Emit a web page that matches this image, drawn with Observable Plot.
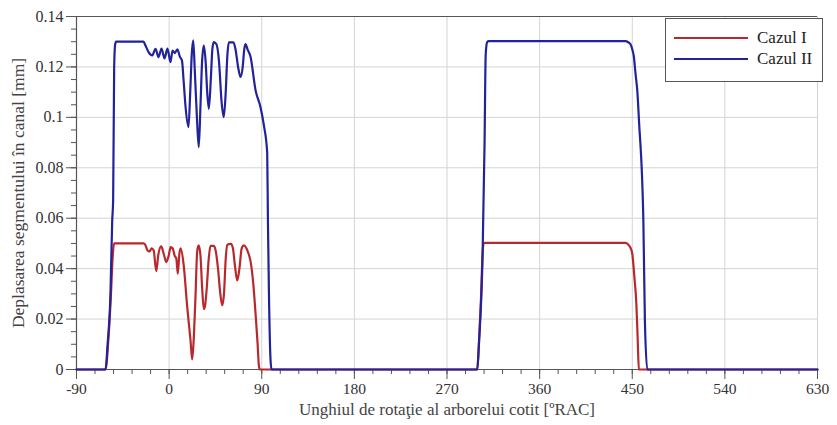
<!DOCTYPE html>
<html>
<head>
<meta charset="utf-8">
<script src="https://cdn.jsdelivr.net/npm/d3@7"></script>
<script src="https://cdn.jsdelivr.net/npm/@observablehq/plot@0.6"></script>
<style>
  body { margin: 0; background: #fff; }
  #wrap { position: relative; width: 837px; height: 425px; font-family: "Liberation Serif", "DejaVu Serif", serif; }
  #chart svg, #chart svg text { font-family: "Liberation Serif", serif !important; }
  #legend { position: absolute; left: 665px; top: 18px; width: 158px; height: 64px; border: 1.5px solid #555; background: #fff; box-sizing: border-box; }
  .item { position: absolute; left: 8px; height: 20px; display: flex; align-items: center; font-size: 17px; color: #222; }
  .item span.sw { display: inline-block; width: 74px; height: 2.5px; margin-right: 9px; }
</style>
</head>
<body>
<div id="wrap">
  <div id="chart"></div>
  <div id="legend">
    <div class="item" style="top:9px"><span class="sw" style="background:#b8282c"></span>Cazul I</div>
    <div class="item" style="top:30px"><span class="sw" style="background:#22229a"></span>Cazul II</div>
  </div>
</div>
<script>
// ---- data ----
const seriesNames = ["Cazul I", "Cazul II"];

const angleI = [-90, -61.8, -59, -56.5, -54.8, -53.5, -24.9, -23, -21, -19, -17, -15, -12.5, -10.5, -7.7, -5, -2.8, -0.5, 1.5, 3.5, 5.5, 7, 8.4, 10, 11.2, 14, 17.6, 20.8, 22.4, 24, 25.6, 27.3, 28.8, 30.5, 32, 33.7, 35, 36.5, 38.5, 40.2, 43.5, 45.5, 47.5, 49.5, 51.6, 53.3, 55, 56.4, 60, 62, 64, 66.2, 68.3, 70.5, 72.6, 75.2, 77.1, 79.1, 82, 84, 86, 87.1, 88, 299.4, 301, 303, 304.6, 305.5, 307, 443.5, 446, 448, 450, 452, 454, 455.3, 456.4, 630];
const valueI = [0, 0, 0.012, 0.03, 0.045, 0.05, 0.05, 0.0493, 0.0472, 0.0468, 0.048, 0.0472, 0.039, 0.0455, 0.0488, 0.0455, 0.0426, 0.045, 0.0485, 0.048, 0.045, 0.044, 0.038, 0.046, 0.048, 0.042, 0.0247, 0.0115, 0.004, 0.0128, 0.0287, 0.047, 0.0492, 0.045, 0.033, 0.024, 0.0255, 0.032, 0.044, 0.049, 0.049, 0.0465, 0.04, 0.031, 0.0255, 0.03, 0.044, 0.0495, 0.0498, 0.048, 0.041, 0.0353, 0.04, 0.048, 0.0492, 0.048, 0.046, 0.043, 0.033, 0.022, 0.01, 0.002, 0, 0, 0.01, 0.028, 0.046, 0.05, 0.0502, 0.0502, 0.0496, 0.0485, 0.046, 0.037, 0.026, 0.012, 0, 0];

const angleII = [-90, -61.8, -59.8, -57, -55.3, -54.4, -53.4, -52.4, -51.4, -24.9, -23, -20, -16.4, -13.2, -10.3, -7.4, -4.5, -1.6, 1.3, 3.3, 5.5, 8, 10.5, 12.5, 14, 16, 18.8, 20.5, 22, 23.4, 25, 27, 28.8, 30.5, 32, 33.7, 35.5, 37, 38.6, 40.5, 42, 43.4, 46, 48.5, 51, 53.1, 55, 56.5, 58, 62.5, 64.5, 67, 69.4, 71.5, 73, 74.2, 76.2, 79.1, 84, 88.8, 92, 95.3, 96, 97, 98.5, 99.5, 299.4, 301, 304.6, 306.5, 307.6, 309, 310.5, 443.5, 446, 448.3, 450, 451.6, 453, 455, 456.5, 460.8, 462.3, 464.6, 630];
const valueII = [0, 0, 0.01, 0.03, 0.059, 0.067, 0.12, 0.129, 0.13, 0.13, 0.1285, 0.1259, 0.1246, 0.1272, 0.1239, 0.1273, 0.1234, 0.1273, 0.1219, 0.1265, 0.1255, 0.127, 0.124, 0.1225, 0.115, 0.104, 0.0961, 0.11, 0.125, 0.1305, 0.118, 0.1, 0.0882, 0.105, 0.122, 0.1285, 0.122, 0.11, 0.1034, 0.115, 0.127, 0.1298, 0.129, 0.122, 0.106, 0.1001, 0.11, 0.124, 0.1297, 0.1297, 0.127, 0.12, 0.116, 0.12, 0.127, 0.1291, 0.127, 0.124, 0.1107, 0.104, 0.097, 0.086, 0.059, 0.03, 0.004, 0, 0, 0.01, 0.046, 0.09, 0.125, 0.1298, 0.1302, 0.1302, 0.1298, 0.129, 0.127, 0.124, 0.118, 0.11, 0.099, 0.059, 0.019, 0, 0];

const xTicks = [-90, 0, 90, 180, 270, 360, 450, 540, 630];
const xMinorTicks = d3.range(-90, 631, 18);
const yTicks = [0, 0.02, 0.04, 0.06, 0.08, 0.1, 0.12, 0.14];
const yMinorTicks = d3.range(0, 0.1401, 0.005);

const xLabel = "Unghiul de rotaţie al arborelui cotit [ºRAC]";
const yLabel = "Deplasarea segmentului în canal [mm]";

const seriesColors = ["#b8282c", "#22229a"];

const rowsI = angleI.map((a, i) => ({x: a, y: valueI[i], s: seriesNames[0]}));
const rowsII = angleII.map((a, i) => ({x: a, y: valueII[i], s: seriesNames[1]}));

const axisColor = "#555";
const serif = '"Liberation Serif", serif';

const chart = Plot.plot({
  width: 837,
  height: 425,
  marginLeft: 76,
  marginRight: 20,
  marginTop: 16,
  marginBottom: 56,
  style: {fontFamily: serif, fontSize: "16px", color: "#333", background: "#fff"},
  x: {domain: [xTicks[0], xTicks[xTicks.length - 1]]},
  y: {domain: [yTicks[0], yTicks[yTicks.length - 1]]},
  marks: [
    Plot.gridX(xTicks.slice(1), {stroke: "#d4d4d4", strokeOpacity: 1, strokeWidth: 1}),
    Plot.gridY(yTicks.slice(1, -1), {stroke: "#d4d4d4", strokeOpacity: 1, strokeWidth: 1}),
    Plot.ruleY([yTicks[yTicks.length - 1]], {stroke: axisColor, strokeWidth: 1.2}),
    Plot.ruleY([yTicks[0]], {stroke: axisColor, strokeWidth: 1.2}),
    Plot.ruleX([xTicks[0]], {stroke: axisColor, strokeWidth: 1.2}),
    Plot.axisX(xMinorTicks, {tickSize: 5, text: null, label: null, stroke: axisColor}),
    Plot.axisX(xTicks, {tickSize: 10, tickPadding: 3, label: null, stroke: axisColor, fill: "#333", fontSize: 15.5, fontFamily: serif, tickFormat: d => String(d)}),
    Plot.axisY(yMinorTicks, {tickSize: 5, text: null, label: null, stroke: axisColor}),
    Plot.axisY(yTicks, {tickSize: 10, tickPadding: 3, label: null, stroke: axisColor, fill: "#333", fontSize: 16, fontFamily: serif, tickFormat: d => String(+d.toFixed(2))}),
    Plot.line(rowsI, {x: "x", y: "y", stroke: seriesColors[0], strokeWidth: 2.2, curve: "monotone-x"}),
    Plot.line(rowsII, {x: "x", y: "y", stroke: seriesColors[1], strokeWidth: 2.2, curve: "monotone-x"}),
    Plot.text([xLabel], {frameAnchor: "bottom", textAnchor: "middle", dy: 45, fontSize: 17, fill: "#444", fontFamily: serif}),
    Plot.text([yLabel], {frameAnchor: "left", textAnchor: "middle", rotate: -90, dx: -58, fontSize: 17.5, fill: "#444", fontFamily: serif})
  ]
});
document.getElementById("chart").appendChild(chart);
</script>
</body>
</html>
